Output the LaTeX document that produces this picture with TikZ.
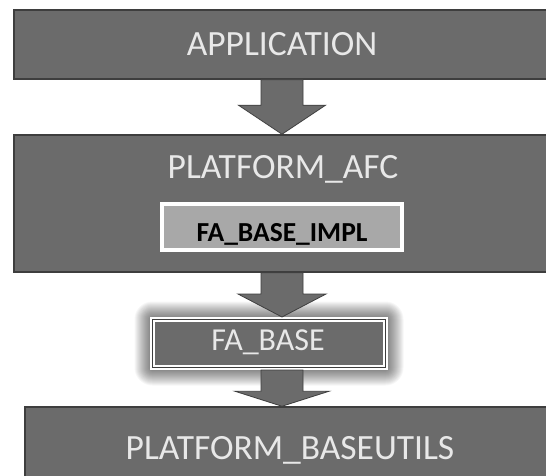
\documentclass[tikz,border=0pt]{standalone}
\usepackage{fontspec}
\setmainfont{Carlito}
\usetikzlibrary{calc}
\definecolor{boxgray}{HTML}{6B6B6B}
\definecolor{edgegray}{HTML}{3E3E3E}
\definecolor{txtgray}{HTML}{E8E8E8}
\definecolor{implfill}{HTML}{A8A8A8}
\tikzset{
  layerbox/.style={draw=edgegray, line width=1.5pt, fill=boxgray, inner sep=0pt},
  bigtext/.style={text=txtgray, inner sep=0pt, anchor=base, font=\fontsize{35.5}{40}\selectfont},
  midtext/.style={text=txtgray, inner sep=0pt, anchor=base, font=\fontsize{32}{36}\selectfont},
  impltext/.style={text=black, inner sep=0pt, anchor=base, font=\bfseries\fontsize{27.5}{32}\selectfont},
  implbox/.style={draw=white, line width=4pt, fill=implfill, inner sep=0pt},
  basebox/.style={draw=white, line width=5pt, fill=boxgray, inner sep=0pt},
  arrowshape/.style={fill=boxgray, draw=edgegray, line width=0.8pt, line join=miter},
}
% #1 start, #2 tip, #3 head length, #4 head half width
\newcommand\blockarrow[4]{%
  \filldraw[arrowshape] ($(#1)+(-21,0)$) -- ($(#2)+(-21,-#3)$) -- ($(#2)+(-#4,-#3)$) -- (#2)
    -- ($(#2)+(#4,-#3)$) -- ($(#2)+(21,-#3)$) -- ($(#1)+(21,0)$) -- cycle;}
\begin{document}
\begin{tikzpicture}[x=1pt,y=-1pt]
\useasboundingbox (0,0) rectangle (546,476);
\clip (0,0) rectangle (546,476);
\fill[white] (0,0) rectangle (546,476);

% glow around FA_BASE
\coordinate (gnw) at (152.5,319.5);
\coordinate (gse) at (385.5,367.5);
\foreach \i in {1,...,18}{
  \fill[black, opacity=0.034, rounded corners=\i pt] ($(gnw)+(-\i,-\i)$) rectangle ($(gse)+(\i,\i)$);
}

% layer boxes
\node[layerbox, minimum width=536pt, minimum height=69pt] (app) at (282,44.5) {};
\node[bigtext] (applbl) at (282,56) {APPLICATION};

\node[layerbox, minimum width=536pt, minimum height=137pt] (afc) at (282,203.5) {};
\node[bigtext] (afclbl) at (283,178) {PLATFORM\_AFC};

\node[implbox, minimum width=240pt, minimum height=46pt] (impl) at (282,227) {};
\node[impltext] (impllbl) at (282,241.5) {FA\_BASE\_IMPL};

\node[basebox, minimum width=233pt, minimum height=48pt] (fabase) at (269,343.5) {};
\draw[edgegray, line width=1pt] ($(fabase.north west)+(2.5,2.5)$) rectangle ($(fabase.south east)+(-2.5,-2.5)$);
\node[midtext] (fabaselbl) at (268,350) {FA\_BASE};

\node[layerbox, minimum width=530pt, minimum height=84pt] (utils) at (290,449) {};
\node[bigtext] (utilslbl) at (290,459) {PLATFORM\_BASEUTILS};

% block arrows
\coordinate (a1s) at (app.south -| afc.north);
\coordinate (a2e) at (fabase.north -| afc.south);
\coordinate (a3s) at (fabase.south -| afc.south);
\coordinate (a3e) at (utils.north -| afc.south);
\blockarrow{app.south}{afc.north}{29}{43.5}
\blockarrow{afc.south}{a2e}{23}{44}
\blockarrow{a3s}{a3e}{15}{47}
\end{tikzpicture}
\end{document}
